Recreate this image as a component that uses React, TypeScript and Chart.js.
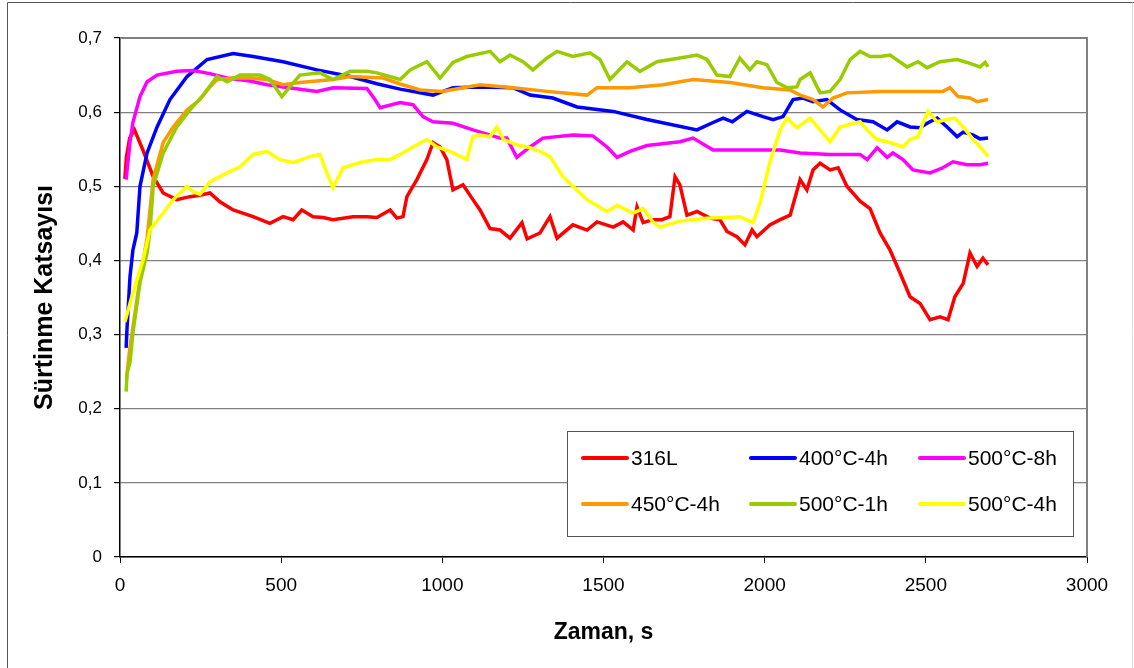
import React, { useEffect, useRef } from "react";
import { Chart, registerables } from "chart.js";

Chart.register(...registerables);

// Friction coefficient vs. sliding time for untreated and nitrided 316L samples
const SERIES_LABELS = ["316L", "400°C-4h", "500°C-8h", "450°C-4h", "500°C-1h", "500°C-4h"];
const SERIES_COLORS = ["#FF0000", "#0000FF", "#FF00FF", "#FF9900", "#99CC00", "#FFFF00"];

const X_TICKS = [0, 500, 1000, 1500, 2000, 2500, 3000];
const Y_TICKS = [0, 0.1, 0.2, 0.3, 0.4, 0.5, 0.6, 0.7];

const t316L = [15, 20, 30, 45, 71, 103, 134, 176, 217, 248, 279, 310, 351, 413, 465, 506, 537, 564, 599, 630, 661, 723, 766, 797, 838, 859, 878, 890, 921, 952, 971, 993, 1014, 1033, 1064, 1095, 1117, 1148, 1179, 1210, 1247, 1263, 1303, 1334, 1356, 1405, 1449, 1480, 1530, 1561, 1592, 1604, 1623, 1653, 1681, 1706, 1722, 1737, 1759, 1790, 1830, 1861, 1883, 1914, 1939, 1961, 1976, 2016, 2048, 2079, 2110, 2131, 2150, 2172, 2203, 2228, 2255, 2296, 2327, 2358, 2389, 2420, 2451, 2482, 2513, 2544, 2569, 2590, 2616, 2637, 2659, 2677, 2693];
const v316L = [0.51, 0.54, 0.565, 0.576, 0.549, 0.513, 0.491, 0.482, 0.486, 0.488, 0.491, 0.479, 0.468, 0.459, 0.45, 0.459, 0.455, 0.468, 0.459, 0.458, 0.455, 0.459, 0.459, 0.458, 0.468, 0.457, 0.459, 0.486, 0.509, 0.536, 0.559, 0.553, 0.536, 0.495, 0.502, 0.482, 0.468, 0.443, 0.441, 0.43, 0.451, 0.429, 0.437, 0.459, 0.43, 0.448, 0.441, 0.452, 0.445, 0.452, 0.441, 0.472, 0.451, 0.455, 0.455, 0.459, 0.513, 0.502, 0.461, 0.466, 0.457, 0.455, 0.439, 0.432, 0.421, 0.441, 0.432, 0.448, 0.455, 0.461, 0.509, 0.495, 0.522, 0.531, 0.522, 0.525, 0.5, 0.48, 0.47, 0.437, 0.414, 0.383, 0.351, 0.342, 0.32, 0.324, 0.32, 0.351, 0.369, 0.41, 0.392, 0.403, 0.394];

const t400C4h = [19, 22, 31, 40, 52, 62, 84, 115, 155, 208, 270, 351, 413, 506, 611, 714, 800, 869, 971, 1033, 1117, 1219, 1272, 1343, 1418, 1530, 1635, 1790, 1840, 1871, 1900, 1945, 1995, 2026, 2057, 2088, 2119, 2150, 2193, 2234, 2286, 2336, 2380, 2411, 2451, 2482, 2504, 2535, 2566, 2597, 2616, 2647, 2668, 2693];
const v400C4h = [0.282, 0.31, 0.378, 0.414, 0.437, 0.5, 0.545, 0.58, 0.617, 0.648, 0.671, 0.679, 0.675, 0.668, 0.657, 0.648, 0.638, 0.631, 0.623, 0.633, 0.634, 0.633, 0.623, 0.619, 0.607, 0.601, 0.59, 0.576, 0.586, 0.592, 0.587, 0.601, 0.594, 0.59, 0.594, 0.617, 0.619, 0.614, 0.617, 0.603, 0.59, 0.587, 0.576, 0.587, 0.58, 0.579, 0.585, 0.592, 0.58, 0.567, 0.573, 0.569, 0.564, 0.565];

const t500C8h = [19, 31, 40, 62, 84, 115, 176, 226, 279, 332, 403, 456, 506, 611, 661, 766, 791, 807, 869, 909, 940, 971, 1033, 1095, 1179, 1200, 1219, 1231, 1272, 1312, 1405, 1467, 1511, 1542, 1582, 1635, 1737, 1778, 1840, 1945, 2048, 2110, 2203, 2296, 2318, 2349, 2380, 2398, 2429, 2460, 2513, 2553, 2584, 2628, 2668, 2693];
const v500C8h = [0.509, 0.559, 0.586, 0.621, 0.641, 0.65, 0.655, 0.656, 0.652, 0.646, 0.642, 0.637, 0.634, 0.628, 0.633, 0.632, 0.617, 0.606, 0.613, 0.61, 0.594, 0.587, 0.585, 0.576, 0.565, 0.565, 0.549, 0.539, 0.553, 0.565, 0.569, 0.568, 0.553, 0.539, 0.547, 0.555, 0.56, 0.565, 0.549, 0.549, 0.549, 0.545, 0.543, 0.543, 0.536, 0.552, 0.539, 0.545, 0.536, 0.522, 0.518, 0.525, 0.533, 0.529, 0.529, 0.531];

const t450C4h = [20, 30, 40, 62, 84, 103, 134, 165, 208, 248, 279, 301, 351, 403, 456, 506, 558, 661, 714, 817, 869, 931, 1000, 1064, 1117, 1219, 1325, 1449, 1480, 1582, 1685, 1778, 1892, 1995, 2079, 2110, 2150, 2181, 2212, 2255, 2358, 2460, 2553, 2575, 2600, 2637, 2659, 2693];
const v450C4h = [0.24, 0.28, 0.31, 0.375, 0.43, 0.51, 0.559, 0.58, 0.603, 0.617, 0.634, 0.644, 0.646, 0.646, 0.644, 0.637, 0.64, 0.644, 0.648, 0.646, 0.638, 0.63, 0.628, 0.633, 0.637, 0.633, 0.628, 0.623, 0.633, 0.633, 0.637, 0.644, 0.64, 0.633, 0.63, 0.623, 0.617, 0.607, 0.619, 0.626, 0.628, 0.628, 0.628, 0.633, 0.621, 0.619, 0.614, 0.617];

const t500C1h = [19, 22, 31, 40, 62, 84, 93, 103, 134, 176, 217, 258, 301, 332, 372, 434, 465, 502, 527, 558, 620, 661, 714, 766, 797, 869, 900, 952, 993, 1033, 1076, 1148, 1179, 1210, 1250, 1281, 1325, 1356, 1405, 1458, 1489, 1520, 1573, 1613, 1666, 1737, 1790, 1821, 1852, 1892, 1923, 1954, 1976, 2007, 2038, 2069, 2100, 2110, 2141, 2172, 2203, 2234, 2265, 2296, 2327, 2358, 2389, 2442, 2476, 2504, 2544, 2597, 2628, 2668, 2684, 2693];
const v500C1h = [0.223, 0.248, 0.262, 0.302, 0.37, 0.41, 0.44, 0.5, 0.545, 0.58, 0.603, 0.623, 0.648, 0.641, 0.65, 0.65, 0.644, 0.621, 0.634, 0.65, 0.653, 0.644, 0.655, 0.655, 0.653, 0.644, 0.657, 0.668, 0.646, 0.667, 0.675, 0.682, 0.668, 0.677, 0.668, 0.657, 0.673, 0.682, 0.675, 0.68, 0.671, 0.644, 0.668, 0.655, 0.668, 0.673, 0.677, 0.671, 0.65, 0.648, 0.673, 0.657, 0.668, 0.664, 0.64, 0.633, 0.634, 0.644, 0.653, 0.626, 0.628, 0.644, 0.671, 0.682, 0.675, 0.675, 0.677, 0.661, 0.668, 0.66, 0.668, 0.671, 0.667, 0.661, 0.667, 0.661];

const t500C4h = [15, 40, 71, 93, 134, 165, 208, 226, 248, 279, 332, 372, 413, 456, 496, 537, 589, 620, 642, 661, 692, 745, 797, 838, 869, 909, 952, 983, 1024, 1076, 1095, 1117, 1148, 1169, 1190, 1231, 1272, 1303, 1334, 1374, 1405, 1449, 1511, 1542, 1592, 1623, 1653, 1675, 1737, 1821, 1923, 1964, 1986, 2016, 2048, 2069, 2100, 2141, 2172, 2203, 2234, 2296, 2318, 2349, 2389, 2429, 2451, 2476, 2491, 2507, 2535, 2566, 2590, 2616, 2647, 2677, 2693];
const v500C4h = [0.317, 0.356, 0.4, 0.441, 0.464, 0.482, 0.5, 0.493, 0.489, 0.506, 0.518, 0.526, 0.543, 0.547, 0.536, 0.532, 0.54, 0.543, 0.518, 0.498, 0.525, 0.532, 0.536, 0.536, 0.543, 0.553, 0.563, 0.553, 0.547, 0.536, 0.567, 0.569, 0.567, 0.58, 0.563, 0.556, 0.552, 0.547, 0.54, 0.513, 0.5, 0.482, 0.466, 0.474, 0.464, 0.47, 0.452, 0.445, 0.453, 0.457, 0.459, 0.451, 0.478, 0.532, 0.576, 0.592, 0.579, 0.592, 0.576, 0.56, 0.58, 0.587, 0.576, 0.563, 0.559, 0.553, 0.563, 0.567, 0.585, 0.601, 0.587, 0.59, 0.592, 0.58, 0.563, 0.549, 0.54];

const SERIES_TIMES = [t316L, t400C4h, t500C8h, t450C4h, t500C1h, t500C4h];
const SERIES_VALUES = [v316L, v400C4h, v500C8h, v450C4h, v500C1h, v500C4h];

const FONT = '"Liberation Sans", Arial, sans-serif';

const formatComma = (v: number) => (Math.abs(v) < 1e-9 ? "0" : v.toFixed(1).replace(".", ","));

// White page, outer frame and the grey top/right edges of the plot area
const framePlugin = {
  id: "frame",
  beforeDraw(chart: any) {
    const { ctx, width, height } = chart;
    ctx.save();
    ctx.fillStyle = "#ffffff";
    ctx.fillRect(0, 0, width, height);
    ctx.strokeStyle = "#555555";
    ctx.lineWidth = 1;
    ctx.beginPath();
    ctx.moveTo(7.5, height);
    ctx.lineTo(7.5, 2.5);
    ctx.lineTo(width, 2.5);
    ctx.stroke();
    ctx.strokeStyle = "#dddddd";
    ctx.beginPath();
    ctx.moveTo(width - 1.5, 2.5);
    ctx.lineTo(width - 1.5, height);
    ctx.stroke();
    ctx.restore();
  },
  afterDraw(chart: any) {
    const { ctx, chartArea } = chart;
    ctx.save();
    ctx.strokeStyle = "#808080";
    ctx.lineWidth = 2;
    ctx.beginPath();
    ctx.moveTo(chartArea.left, chartArea.top);
    ctx.lineTo(chartArea.right, chartArea.top);
    ctx.lineTo(chartArea.right, chartArea.bottom);
    ctx.stroke();
    ctx.restore();
  },
};

// Boxed legend, three entries per row, inside the lower right of the plot
const boxLegendPlugin = {
  id: "boxLegend",
  afterDraw(chart: any) {
    const { ctx } = chart;
    const box = { x: 567.5, y: 431.5, w: 506, h: 105 };
    const colLine = [583, 751, 920];
    const colText = [631, 799, 968];
    const rowY = [458, 504];
    ctx.save();
    ctx.fillStyle = "#ffffff";
    ctx.fillRect(box.x, box.y, box.w, box.h);
    ctx.strokeStyle = "#555555";
    ctx.lineWidth = 1;
    ctx.strokeRect(box.x, box.y, box.w, box.h);
    ctx.font = `21px ${FONT}`;
    ctx.textBaseline = "middle";
    ctx.textAlign = "left";
    chart.data.datasets.forEach((ds: any, i: number) => {
      const row = Math.floor(i / 3);
      const col = i % 3;
      const y = rowY[row];
      ctx.strokeStyle = ds.borderColor;
      ctx.lineWidth = 4;
      ctx.lineCap = "round";
      ctx.beginPath();
      ctx.moveTo(colLine[col], y);
      ctx.lineTo(colLine[col] + 44, y);
      ctx.stroke();
      ctx.fillStyle = "#000000";
      ctx.fillText(ds.label, colText[col], y + 1);
    });
    ctx.restore();
  },
};

export default function App() {
  const canvasRef = useRef<HTMLCanvasElement | null>(null);

  useEffect(() => {
    document.body.style.margin = "0";
    const canvas = canvasRef.current;
    if (!canvas) return;

    const datasets = SERIES_LABELS.map((label, i) => ({
      label,
      data: SERIES_TIMES[i].map((t, k) => ({ x: t, y: SERIES_VALUES[i][k] })),
      borderColor: SERIES_COLORS[i],
      backgroundColor: SERIES_COLORS[i],
      borderWidth: 3.5,
      pointRadius: 0,
      tension: 0,
      fill: false,
      order: SERIES_LABELS.length - i,
    }));

    const chart = new Chart(canvas, {
      type: "line",
      data: { datasets },
      options: {
        animation: false,
        responsive: false,
        devicePixelRatio: 1,
        layout: { padding: { left: 0, right: 47, top: 38, bottom: 0 } },
        plugins: {
          legend: { display: false },
          tooltip: { enabled: false },
        },
        scales: {
          x: {
            type: "linear",
            min: X_TICKS[0],
            max: X_TICKS[X_TICKS.length - 1],
            afterBuildTicks: (scale: any) => {
              scale.ticks = X_TICKS.map((v) => ({ value: v }));
            },
            ticks: {
              color: "#000",
              font: { family: FONT, size: 19 },
              padding: 11,
              maxRotation: 0,
              autoSkip: false,
              callback: (v: any) => String(v),
            },
            grid: { drawOnChartArea: false, drawTicks: true, tickLength: 6, color: "#000", lineWidth: 1 },
            border: { color: "#000", width: 1.5 },
            title: {
              display: true,
              text: "Zaman, s",
              color: "#000",
              font: { family: FONT, size: 23, weight: "bold" },
              padding: { top: 0, bottom: 22 },
            },
            afterFit: (scale: any) => {
              scale.height = 111;
            },
          },
          y: {
            type: "linear",
            min: Y_TICKS[0],
            max: Y_TICKS[Y_TICKS.length - 1],
            afterBuildTicks: (scale: any) => {
              scale.ticks = Y_TICKS.map((v) => ({ value: v }));
            },
            ticks: {
              color: "#000",
              font: { family: FONT, size: 17 },
              padding: 12,
              callback: (v: any) => formatComma(Number(v)),
            },
            grid: { color: "#808080", lineWidth: 1.2, tickColor: "#000", tickLength: 6 },
            border: { color: "#000", width: 1.5 },
            title: {
              display: true,
              text: "Sürtinme Katsayısı",
              color: "#000",
              font: { family: FONT, size: 25, weight: "bold" },
              padding: { top: 30, bottom: 0 },
            },
            afterFit: (scale: any) => {
              scale.width = 120;
            },
          },
        },
      },
      plugins: [framePlugin, boxLegendPlugin],
    } as any);

    return () => chart.destroy();
  }, []);

  return (
    <div style={{ width: 1134, height: 668 }}>
      <canvas ref={canvasRef} width={1134} height={668} style={{ display: "block", width: 1134, height: 668 }} />
    </div>
  );
}
